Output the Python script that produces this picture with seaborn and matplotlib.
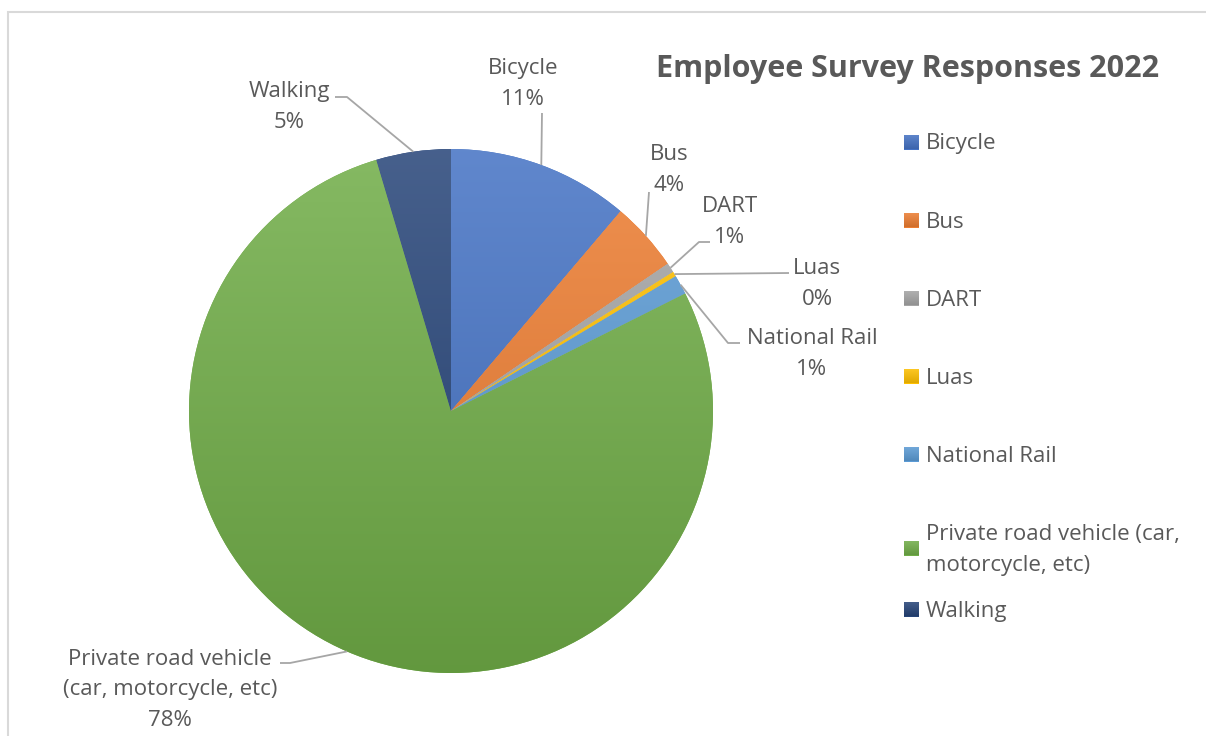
import numpy as np
import matplotlib
matplotlib.use("Agg")
import matplotlib.pyplot as plt
import matplotlib.colors as mcolors
from matplotlib.patches import Rectangle
import seaborn as sns

# Survey data: how employees travel to work
modes = ["Bicycle", "Bus", "DART", "Luas", "National Rail",
         "Private road vehicle (car, motorcycle, etc)", "Walking"]
shares = [11.2, 4.3, 0.6, 0.3, 1.2, 77.8, 4.6]
label_text = ["Bicycle", "Bus", "DART", "Luas", "National Rail",
              "Private road vehicle\n(car, motorcycle, etc)", "Walking"]
legend_text = ["Bicycle", "Bus", "DART", "Luas", "National Rail",
               "Private road vehicle (car,\nmotorcycle, etc)", "Walking"]
base_colors = ["#4472C4", "#ED7D31", "#A5A5A5", "#FFC000",
               "#5B9BD5", "#70AD47", "#264478"]
title = "Employee Survey Responses 2022"

sns.set_theme(style="white")
plt.rcParams["font.family"] = ["Open Sans", "DejaVu Sans"]
TXT = "#595959"
FS = 16
LS = 1.62

W, H = 1206, 736
fig = plt.figure(figsize=(W / 100, H / 100), dpi=100)
ax = fig.add_axes([0, 0, 1, 1])


def Y(y):
    # convert top-down pixel row into axes coordinate
    return H - y


palette = sns.color_palette(base_colors)
cx, cy, R = 451, Y(411), 262

wedges, _ = ax.pie(shares, colors=palette, startangle=90, counterclock=False,
                   radius=R, center=(cx, cy), frame=True,
                   wedgeprops=dict(linewidth=0))
ax.set_aspect("auto")
ax.axis("off")


def grad_cmap(c):
    rgb = np.array(mcolors.to_rgb(c))
    top = rgb + (1 - rgb) * 0.15
    bot = rgb * 0.88
    return mcolors.LinearSegmentedColormap.from_list("g", [bot, top])


grad = np.linspace(0, 1, 256).reshape(-1, 1)
for w, c in zip(wedges, base_colors):
    im = ax.imshow(grad, cmap=grad_cmap(c), origin="lower", aspect="auto",
                   extent=(cx - R, cx + R, cy - R, cy + R), zorder=2)
    im.set_clip_path(w)

# leader lines and data labels
theta = [(w.theta1 + w.theta2) / 2 for w in wedges]
anchors = [(cx + R * np.cos(np.radians(t)), cy + R * np.sin(np.radians(t))) for t in theta]

label_pos = [(523, 84), (669, 170), (730, 222), (817, 284), (812, 354),
             (170, 690), (289, 107)]
leader_pts = [
    [(542, 113)],
    [(649, 192)],
    [(699, 242), (710, 242)],
    [(789, 273)],
    [(728, 343), (740, 343)],
    [(290, 663), (280, 663)],
    [(347, 97), (335, 97)],
]
for (ax0, ay0), pts, (lx, ly), name, v in zip(anchors, leader_pts, label_pos,
                                             label_text, shares):
    xs = [ax0] + [p[0] for p in pts]
    ys = [ay0] + [Y(p[1]) for p in pts]
    ax.plot(xs, ys, color="#A6A6A6", lw=1.3, zorder=3, solid_capstyle="butt")
    ax.text(lx, Y(ly), f"{name}\n{v:.0f}%", ha="center", va="center",
            fontsize=FS, color=TXT, linespacing=LS, zorder=4)

# title
ax.text(908, Y(69), title, ha="center", va="center", fontsize=22,
        fontweight="bold", color=TXT)

# legend
leg_y = [142, 220, 298, 376, 454, 548, 609]
for yy, name, c in zip(leg_y, legend_text, base_colors):
    sq = Rectangle((904, Y(yy) - 7.5), 15, 15, facecolor=c, linewidth=0, zorder=3)
    ax.add_patch(sq)
    im = ax.imshow(grad, cmap=grad_cmap(c), origin="lower", aspect="auto",
                   extent=(904, 919, Y(yy) - 7.5, Y(yy) + 7.5), zorder=4)
    im.set_clip_path(sq)
    ax.text(926, Y(yy + 2), name, ha="left", va="center", fontsize=FS,
            color=TXT, linespacing=LS)

ax.set_xlim(0, W)
ax.set_ylim(0, H)

# chart area border
fig.add_artist(Rectangle((8 / W, -0.1), 1.2, (H - 12) / H + 0.1,
                         transform=fig.transFigure, fill=False,
                         edgecolor="#D9D9D9", linewidth=1.5))

fig.savefig("out.png", dpi=100)
